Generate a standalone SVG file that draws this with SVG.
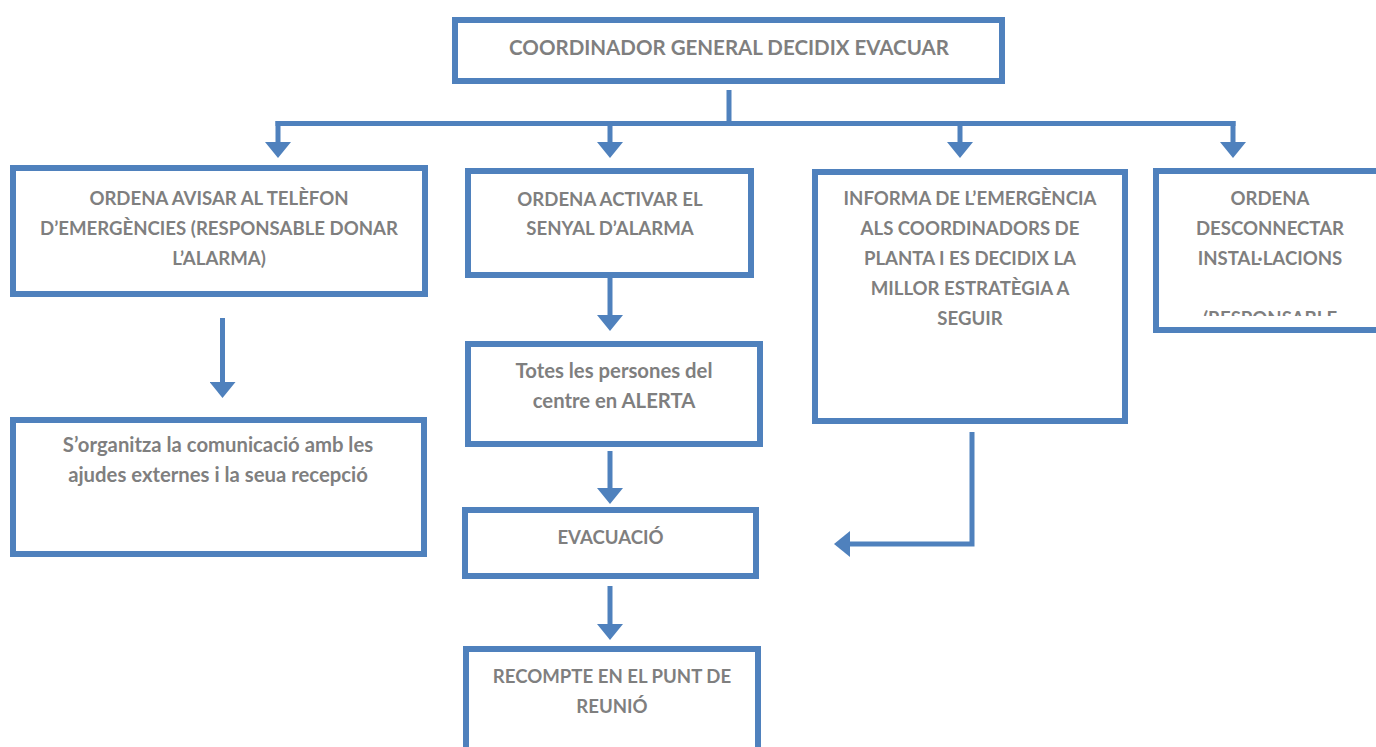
<svg xmlns="http://www.w3.org/2000/svg" width="1376" height="747" viewBox="0 0 1376 747">
  <style>
    .box { fill: #ffffff; stroke: #4f81bd; stroke-width: 6; }
    .t { font-family: Lato, "Liberation Sans", sans-serif; font-weight: bold; font-size: 18.6px; fill: #7f7f7f; text-anchor: middle; }
    .big { font-size: 20.5px; }
    .lc { font-size: 20.3px; }
    .conn { fill: none; stroke: #4f81bd; stroke-width: 5; }
  </style>
  <defs>
    <marker id="arr" markerUnits="userSpaceOnUse" markerWidth="16" markerHeight="26" viewBox="0 0 16 26" refX="0" refY="13" orient="auto">
      <path d="M0,0 L16,13 L0,26 Z" fill="#4f81bd"/>
    </marker>
    <clipPath id="clip4">
      <rect x="1156" y="171" width="220" height="145"/>
    </clipPath>
  </defs>
  <rect width="1376" height="747" fill="#ffffff"/>

  <g id="connectors">
    <path class="conn" d="M729,90 V123.5"/>
    <path class="conn" d="M275.5,123.5 H1235.5"/>
    <path class="conn" d="M278,121 V142" marker-end="url(#arr)"/>
    <path class="conn" d="M610,121 V142" marker-end="url(#arr)"/>
    <path class="conn" d="M960,121 V142" marker-end="url(#arr)"/>
    <path class="conn" d="M1233,121 V142" marker-end="url(#arr)"/>
    <path class="conn" d="M222.5,318 V382" marker-end="url(#arr)"/>
    <path class="conn" d="M610,278 V315" marker-end="url(#arr)"/>
    <path class="conn" d="M610,451 V488" marker-end="url(#arr)"/>
    <path class="conn" d="M610,586 V624" marker-end="url(#arr)"/>
    <path class="conn" d="M972,432 V544 H850" marker-end="url(#arr)"/>
  </g>

  <g id="n-coordinador">
    <rect class="box" x="455" y="20" width="547" height="61"/>
    <text class="t big" x="729" y="55">COORDINADOR GENERAL DECIDIX EVACUAR</text>
  </g>

  <g id="n-avisar">
    <rect class="box" x="13" y="168" width="412" height="126"/>
    <text class="t" x="219" y="205">ORDENA AVISAR AL TELÈFON</text>
    <text class="t" x="219" y="235">D’EMERGÈNCIES (RESPONSABLE DONAR</text>
    <text class="t" x="219" y="265">L’ALARMA)</text>
  </g>

  <g id="n-activar">
    <rect class="box" x="468" y="171" width="283" height="104"/>
    <text class="t" x="610" y="206">ORDENA ACTIVAR EL</text>
    <text class="t" x="610" y="235">SENYAL D’ALARMA</text>
  </g>

  <g id="n-informa">
    <rect class="box" x="815" y="172" width="310" height="249"/>
    <text class="t" x="970" y="205">INFORMA DE L’EMERGÈNCIA</text>
    <text class="t" x="970" y="235">ALS COORDINADORS DE</text>
    <text class="t" x="970" y="265">PLANTA I ES DECIDIX LA</text>
    <text class="t" x="970" y="295">MILLOR ESTRATÈGIA A</text>
    <text class="t" x="970" y="325">SEGUIR</text>
  </g>

  <g id="n-desconnectar">
    <rect class="box" x="1156" y="171" width="240" height="159"/>
    <g clip-path="url(#clip4)">
      <text class="t" x="1270" y="205">ORDENA</text>
      <text class="t" x="1270" y="235">DESCONNECTAR</text>
      <text class="t" x="1270" y="265">INSTAL·LACIONS</text>
      <text class="t" x="1270" y="325">(RESPONSABLE</text>
    </g>
  </g>

  <g id="n-organitza">
    <rect class="box" x="13" y="420" width="411" height="134"/>
    <text class="t lc" x="218" y="452">S’organitza la comunicació amb les</text>
    <text class="t lc" x="218" y="482">ajudes externes i la seua recepció</text>
  </g>

  <g id="n-alerta">
    <rect class="box" x="468" y="344" width="292" height="100"/>
    <text class="t lc" x="614" y="378">Totes les persones del</text>
    <text class="t lc" x="614" y="408">centre en ALERTA</text>
  </g>

  <g id="n-evacuacio">
    <rect class="box" x="465" y="510" width="291" height="66"/>
    <text class="t" x="610.5" y="544">EVACUACIÓ</text>
  </g>

  <g id="n-recompte">
    <rect class="box" x="466" y="649" width="292" height="120"/>
    <text class="t" x="612" y="683">RECOMPTE EN EL PUNT DE</text>
    <text class="t" x="612" y="713">REUNIÓ</text>
  </g>
</svg>
